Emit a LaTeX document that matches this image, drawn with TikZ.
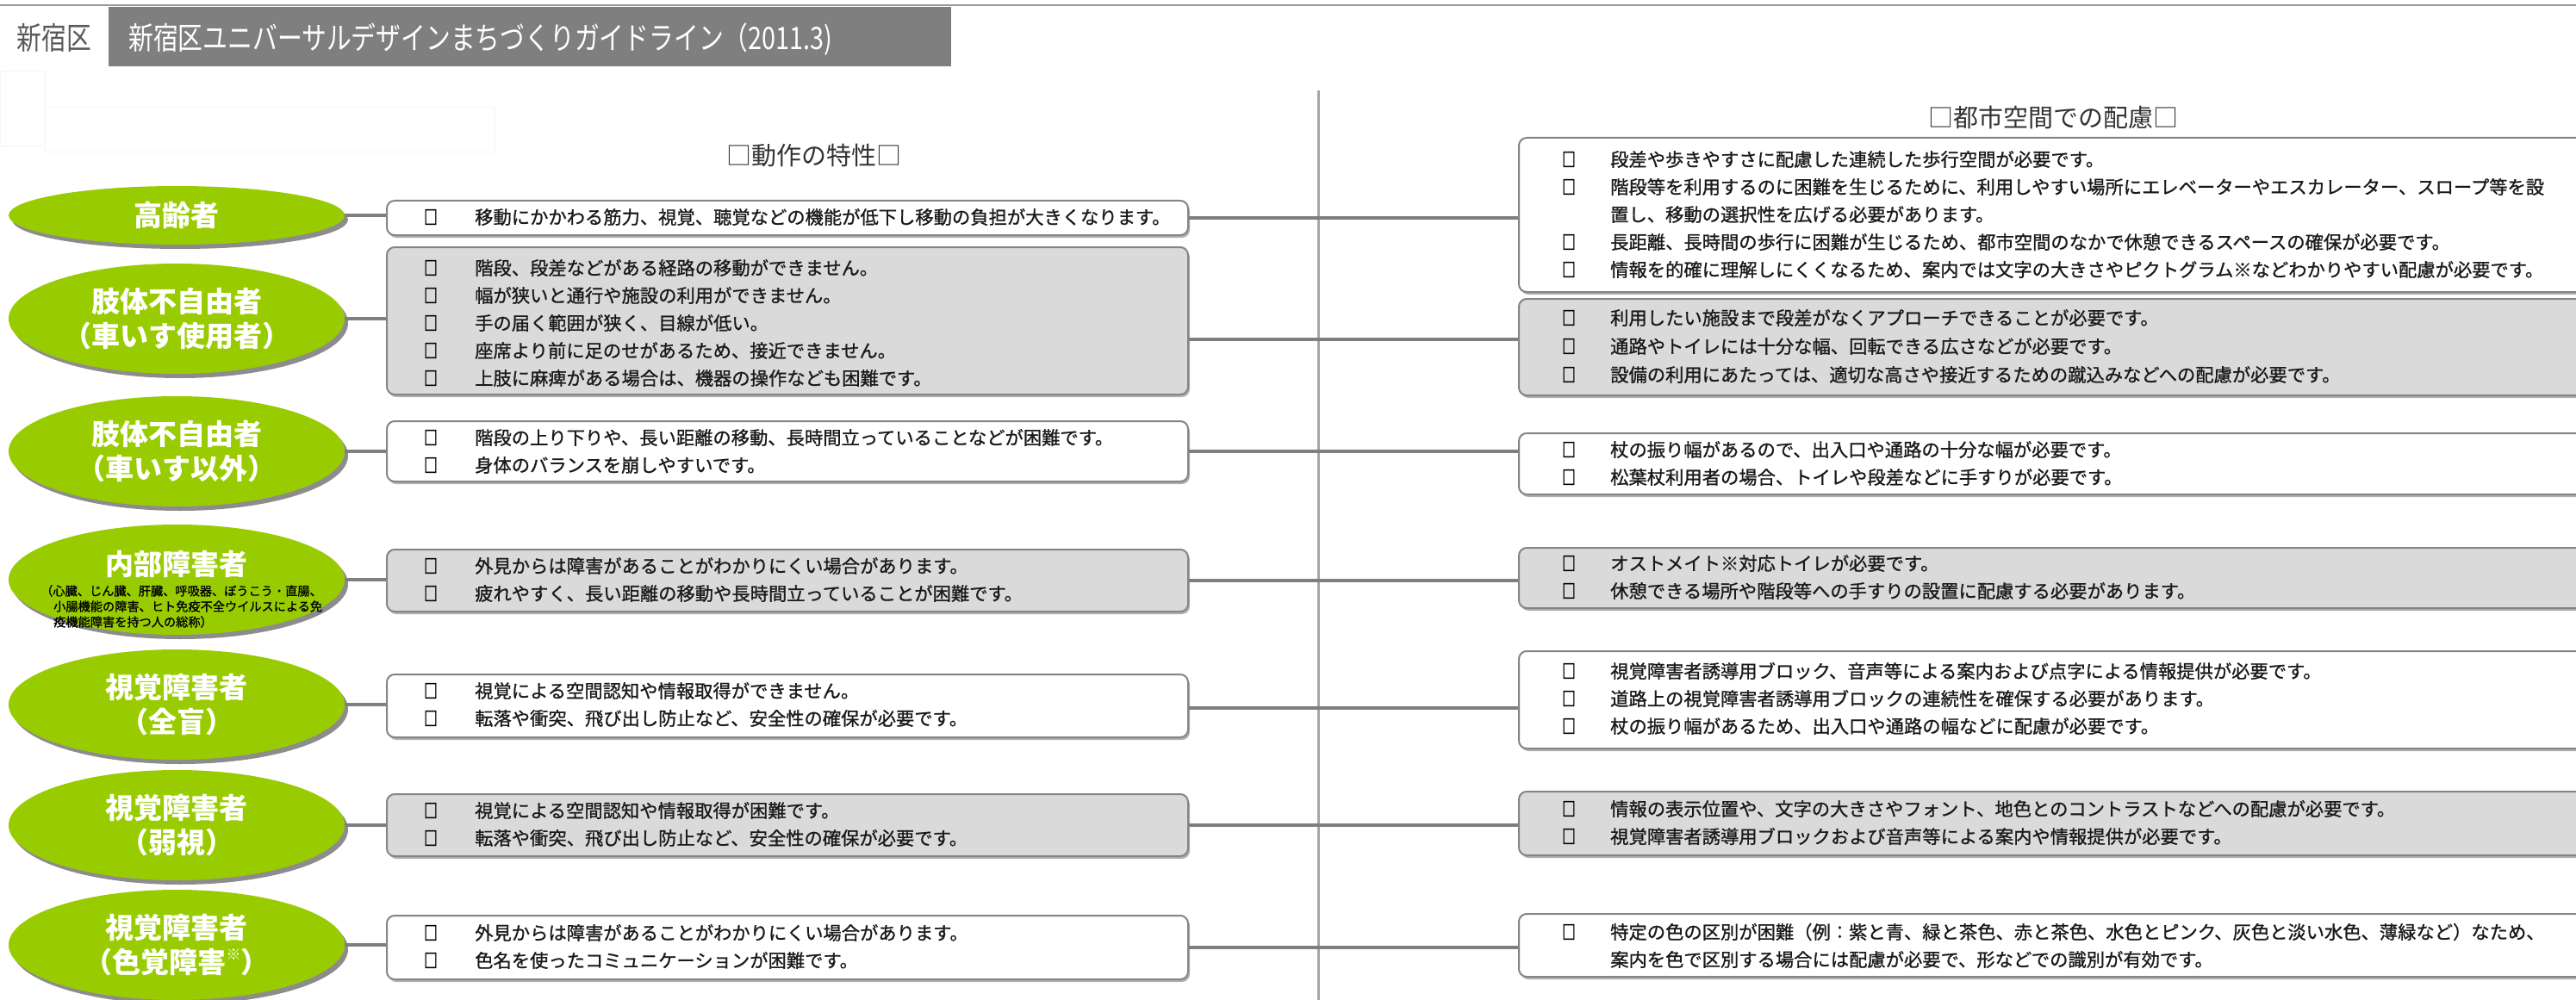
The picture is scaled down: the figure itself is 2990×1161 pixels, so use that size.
\documentclass[tikz,border=0pt]{standalone}
\usepackage{fontspec}
\usetikzlibrary{shapes.geometric}
\newfontfamily\jp{Noto Sans CJK JP}
\newfontfamily\jpm[FakeBold=1]{Noto Sans CJK JP}
\newfontfamily\jpc[FakeStretch=0.8]{Noto Sans CJK JP}
\newfontfamily\jpbul[FakeStretch=0.7,FakeBold=2.5]{Noto Sans CJK JP}
\definecolor{lgreen}{HTML}{99CC00}
\definecolor{eshadow}{HTML}{8C8C8C}
\definecolor{bshadow}{HTML}{B0B0B0}
\definecolor{bord}{HTML}{858585}
\definecolor{boxgray}{HTML}{DADADA}
\definecolor{conncol}{HTML}{7F7F7F}
\definecolor{barcol}{HTML}{7F7F7F}
\definecolor{txtcol}{HTML}{1A1A1A}
\newcommand\mitm[2]{\node[bul] at (500,#1) {□}; \node[txt] at (551,#1) {#2};}
\newcommand\ritm[2]{\node[bul] at (1821,#1) {□}; \node[txt] at (1869,#1) {#2};}
\begin{document}
\begin{tikzpicture}[x=1pt,y=-1pt,
  ell/.style={ellipse, fill=lgreen, minimum width=390pt, minimum height=128pt, inner sep=0pt,
    text=white, align=center, font=\jp\bfseries\fontsize{33}{40}\selectfont,
    preaction={fill=eshadow, transform canvas={xshift=4pt,yshift=-5pt}}},
  wbox/.style={draw=bord, line width=2pt, rounded corners=9pt, fill=white, inner sep=0pt,
    anchor=north west, preaction={fill=bshadow, transform canvas={xshift=2pt,yshift=-3pt}}},
  gbox/.style={wbox, fill=boxgray},
  conn/.style={draw=conncol, line width=4.5pt},
  bul/.style={anchor=center, inner sep=0pt, text=black, font=\jpbul\fontsize{22}{24}\selectfont},
  txt/.style={anchor=west, inner sep=0pt, text=txtcol, font=\jpm\fontsize{21.3}{24}\selectfont},
  head/.style={inner sep=0pt, text=black!80, font=\jp\fontsize{29}{32}\selectfont}
]
\useasboundingbox[fill=white] (0,0) rectangle (2990,1161);
% header
\draw[draw=black!40, line width=2pt] (0,6) -- (2990,6);
\node[draw=none, fill=white, anchor=north west, minimum width=126pt, minimum height=69pt, inner sep=0pt] (hb) at (0,8) {};
\node[inner sep=0pt, text=black!65, font=\jpc\fontsize{36}{40}\selectfont] (ht) at (63,44) {新宿区};
\node[fill=barcol, anchor=north west, minimum width=978pt, minimum height=69pt, inner sep=0pt] (bar) at (126,8) {};
\node[anchor=west, inner sep=0pt, text=white, font=\jpc\fontsize{36}{40}\selectfont] (title) at (149,46) {新宿区ユニバーサルデザインまちづくりガイドライン（2011.3)};
% faint boxes
\draw[black!4, line width=1pt] (0,83) rectangle (52,170);
\draw[black!4, line width=1pt] (52,125) rectangle (574,177);
% divider
\draw[draw=black!35, line width=3pt] (1530,105) -- (1530,1161);
% headings
\node[head] (h1) at (945,181) {□動作の特性□};
\node[head] (h2) at (2383,136) {□都市空間での配慮□};
% ellipses
\node[ell, minimum height=68pt] (e1) at (205,250) {高齢者};
\node[ell] (e2) at (205,370) {肢体不自由者\\（車いす使用者）};
\node[ell] (e3) at (205,524) {肢体不自由者\\（車いす以外）};
\node[ell] (e4) at (205,673) {};
\node[ell] (e5) at (205,818) {視覚障害者\\（全盲）};
\node[ell] (e6) at (205,958) {視覚障害者\\（弱視）};
\node[ell] (e7) at (205,1097) {視覚障害者\\（色覚障害\raisebox{0.45em}{\fontsize{17}{17}\selectfont ※}）};
\node[inner sep=0pt, text=white, font=\jp\bfseries\fontsize{33}{40}\selectfont] (e4t) at (205,655) {内部障害者};
\node[anchor=west, inner sep=0pt, text=black, font=\jpm\fontsize{14.2}{18}\selectfont] (e4a) at (47,686) {（心臓、じん臓、肝臓、呼吸器、ぼうこう・直腸、};
\node[anchor=west, inner sep=0pt, text=black, font=\jpm\fontsize{14.2}{18}\selectfont] (e4b) at (62,704) {小腸機能の障害、ヒト免疫不全ウイルスによる免};
\node[anchor=west, inner sep=0pt, text=black, font=\jpm\fontsize{14.2}{18}\selectfont] (e4c) at (62,722) {疫機能障害を持つ人の総称）};
% middle boxes
\node[wbox, minimum width=930pt, minimum height=40pt] (m1) at (448,232) {};
\node[gbox, minimum width=930pt, minimum height=171pt] (m2) at (448,286) {};
\node[wbox, minimum width=930pt, minimum height=70pt] (m3) at (448,488) {};
\node[gbox, minimum width=930pt, minimum height=72pt] (m4) at (448,637) {};
\node[wbox, minimum width=930pt, minimum height=73pt] (m5) at (448,782) {};
\node[gbox, minimum width=930pt, minimum height=72pt] (m6) at (448,921) {};
\node[wbox, minimum width=930pt, minimum height=74pt] (m7) at (448,1062) {};
% right boxes
\node[wbox, minimum width=1250pt, minimum height=179pt] (r1) at (1762,159) {};
\node[gbox, minimum width=1250pt, minimum height=112pt] (r2) at (1762,346) {};
\node[wbox, minimum width=1250pt, minimum height=71pt] (r3) at (1762,502) {};
\node[gbox, minimum width=1250pt, minimum height=70pt] (r4) at (1762,635) {};
\node[wbox, minimum width=1250pt, minimum height=113pt] (r5) at (1762,755) {};
\node[gbox, minimum width=1250pt, minimum height=74pt] (r6) at (1762,918) {};
\node[wbox, minimum width=1250pt, minimum height=73pt] (r7) at (1762,1060) {};
% connectors left
\draw[conn] (e1.east) -- (e1.east -| m1.west);
\draw[conn] (e2.east) -- (e2.east -| m2.west);
\draw[conn] (e3.east) -- (e3.east -| m3.west);
\draw[conn] (e4.east) -- (e4.east -| m4.west);
\draw[conn] (e5.east) -- (e5.east -| m5.west);
\draw[conn] (e6.east) -- (e6.east -| m6.west);
\draw[conn] (e7.east) -- (e7.east -| m7.west);
% connectors right
\draw[conn] (m1.east) -- (m1.east -| r1.west);
\draw[conn] ([yshift=-21.5pt]m2.east) -- ([yshift=-21.5pt]m2.east -| r2.west);
\draw[conn] (m3.east) -- (m3.east -| r3.west);
\draw[conn] (m4.east) -- (m4.east -| r4.west);
\draw[conn] ([yshift=-2.5pt]m5.east) -- ([yshift=-2.5pt]m5.east -| r5.west);
\draw[conn] (m6.east) -- (m6.east -| r6.west);
\draw[conn] (m7.east) -- (m7.east -| r7.west);
% middle texts
\mitm{252}{移動にかかわる筋力、視覚、聴覚などの機能が低下し移動の負担が大きくなります。}
\mitm{311}{階段、段差などがある経路の移動ができません。}
\mitm{343}{幅が狭いと通行や施設の利用ができません。}
\mitm{375}{手の届く範囲が狭く、目線が低い。}
\mitm{407}{座席より前に足のせがあるため、接近できません。}
\mitm{439}{上肢に麻痺がある場合は、機器の操作なども困難です。}
\mitm{508}{階段の上り下りや、長い距離の移動、長時間立っていることなどが困難です。}
\mitm{540}{身体のバランスを崩しやすいです。}
\mitm{657}{外見からは障害があることがわかりにくい場合があります。}
\mitm{689}{疲れやすく、長い距離の移動や長時間立っていることが困難です。}
\mitm{802}{視覚による空間認知や情報取得ができません。}
\mitm{834}{転落や衝突、飛び出し防止など、安全性の確保が必要です。}
\mitm{941}{視覚による空間認知や情報取得が困難です。}
\mitm{973}{転落や衝突、飛び出し防止など、安全性の確保が必要です。}
\mitm{1083}{外見からは障害があることがわかりにくい場合があります。}
\mitm{1115}{色名を使ったコミュニケーションが困難です。}
% right texts
\ritm{185}{段差や歩きやすさに配慮した連続した歩行空間が必要です。}
\ritm{217}{階段等を利用するのに困難を生じるために、利用しやすい場所にエレベーターやエスカレーター、スロープ等を設}
\node[txt] (r1w) at (1869,249) {置し、移動の選択性を広げる必要があります。};
\ritm{281}{長距離、長時間の歩行に困難が生じるため、都市空間のなかで休憩できるスペースの確保が必要です。}
\ritm{313}{情報を的確に理解しにくくなるため、案内では文字の大きさやピクトグラム※などわかりやすい配慮が必要です。}
\ritm{369}{利用したい施設まで段差がなくアプローチできることが必要です。}
\ritm{402}{通路やトイレには十分な幅、回転できる広さなどが必要です。}
\ritm{435}{設備の利用にあたっては、適切な高さや接近するための蹴込みなどへの配慮が必要です。}
\ritm{522}{杖の振り幅があるので、出入口や通路の十分な幅が必要です。}
\ritm{554}{松葉杖利用者の場合、トイレや段差などに手すりが必要です。}
\ritm{654}{オストメイト※対応トイレが必要です。}
\ritm{686}{休憩できる場所や階段等への手すりの設置に配慮する必要があります。}
\ritm{779}{視覚障害者誘導用ブロック、音声等による案内および点字による情報提供が必要です。}
\ritm{811}{道路上の視覚障害者誘導用ブロックの連続性を確保する必要があります。}
\ritm{843}{杖の振り幅があるため、出入口や通路の幅などに配慮が必要です。}
\ritm{939}{情報の表示位置や、文字の大きさやフォント、地色とのコントラストなどへの配慮が必要です。}
\ritm{971}{視覚障害者誘導用ブロックおよび音声等による案内や情報提供が必要です。}
\ritm{1082}{特定の色の区別が困難（例：紫と青、緑と茶色、赤と茶色、水色とピンク、灰色と淡い水色、薄緑など）なため、}
\node[txt] (r7w) at (1869,1114) {案内を色で区別する場合には配慮が必要で、形などでの識別が有効です。};
\end{tikzpicture}
\end{document}
